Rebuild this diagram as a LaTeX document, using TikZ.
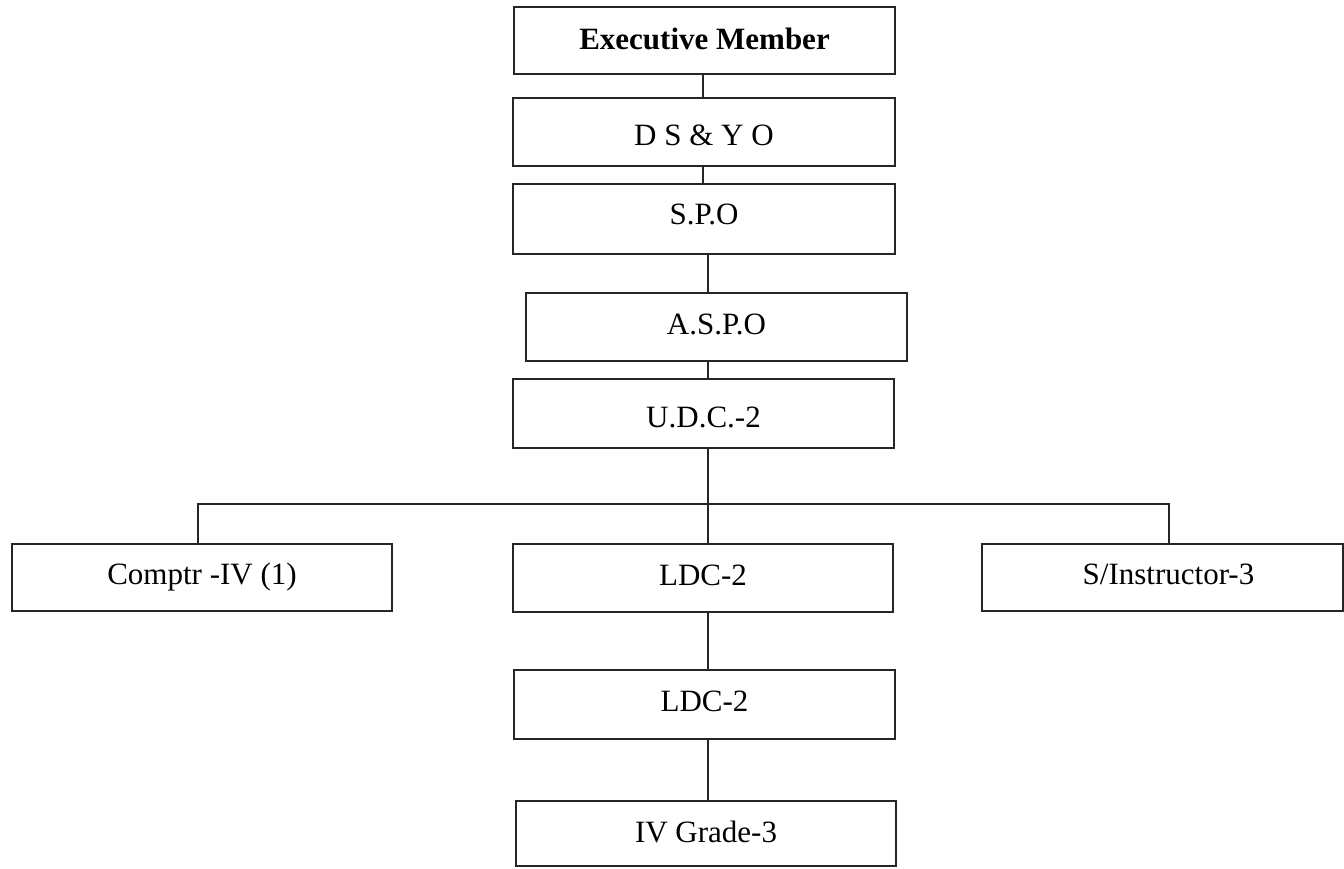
\documentclass[tikz,border=0pt]{standalone}
\usepackage{fontspec}
\setmainfont{Liberation Serif}
\begin{document}
\begin{tikzpicture}[x=1pt,y=-1pt,
  box/.style={draw=black!85, line width=1.5pt, inner sep=0pt, outer sep=0pt,
    font=\fontsize{31}{37}\selectfont, text height=21pt, text depth=0pt,
    minimum width=381pt, minimum height=68pt},
  link/.style={draw=black!85, line width=1.5pt}]
\useasboundingbox (0,0) rectangle (1344,868);

% chain of posts
\node[box, minimum height=67pt] (exec) at (704.5,40.5) {\raisebox{2pt}{\textbf{Executive Member}}};
\node[box, minimum width=382pt] (ds) at (704,132) {\raisebox{-3pt}{D S \& Y O}};
\node[box, minimum width=382pt, minimum height=70pt] (spo) at (704,219) {\raisebox{5pt}{S.P.O}};
\node[box] (aspo) at (716.5,327) {\raisebox{3pt}{A.S.P.O}};
\node[box, minimum height=69pt] (udc) at (703.5,413.5) {\raisebox{-3pt}{U.D.C.-2}};

% branch row
\node[box, minimum width=380pt, minimum height=67pt] (comptr) at (202,577.5) {\raisebox{4pt}{Comptr -IV (1)}};
\node[box, minimum width=380pt] (ldca) at (703,578) {\raisebox{3pt}{LDC-2}};
\node[box, minimum width=361pt, minimum height=67pt] (sinst) at (1162.5,577.5) {\hspace*{12pt}\raisebox{4pt}{S/Instructor-3}};

% lower chain
\node[box, minimum height=69pt] (ldcb) at (704.5,704.5) {\raisebox{4pt}{LDC-2}};
\node[box, minimum width=380pt, minimum height=65pt] (ivg) at (706,833.5) {\raisebox{2pt}{IV Grade-3}};

% bus coordinates
\coordinate (bus) at (708,504);
\coordinate (busL) at (198,504);
\coordinate (busR) at (1169,504);

% connectors
\draw[link] (exec.south -| 703,0) -- (ds.north -| 703,0);
\draw[link] (ds.south -| 703,0) -- (spo.north -| 703,0);
\draw[link] (spo.south -| bus) -- (aspo.north -| bus);
\draw[link] (aspo.south -| bus) -- (udc.north -| bus);
\draw[link] (udc.south -| bus) -- (bus);
\draw[link] (busL |- comptr.north) -- (busL) -- (busR) -- (busR |- sinst.north);
\draw[link] (bus) -- (bus |- ldca.north);
\draw[link] (bus |- ldca.south) -- (bus |- ldcb.north);
\draw[link] (bus |- ldcb.south) -- (bus |- ivg.north);
\end{tikzpicture}
\end{document}
